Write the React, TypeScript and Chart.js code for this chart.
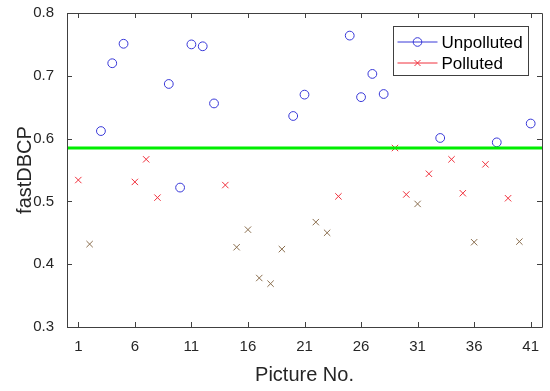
import { useEffect, useRef } from "react";
import { Chart, registerables } from "chart.js";
Chart.register(...registerables);

const unpollutedIdx = [3, 4, 5, 9, 10, 11, 12, 13, 20, 21, 25, 26, 27, 28, 33, 38, 41];
const unpollutedVal = [0.612, 0.72, 0.751, 0.687, 0.522, 0.75, 0.747, 0.656, 0.636, 0.67, 0.764, 0.666, 0.703, 0.671, 0.601, 0.594, 0.624];
const pollutedIdx = [1, 2, 6, 7, 8, 14, 15, 16, 17, 18, 19, 22, 23, 24, 29, 30, 31, 32, 34, 35, 36, 37, 39, 40];
const pollutedVal = [0.534, 0.432, 0.531, 0.567, 0.506, 0.526, 0.427, 0.455, 0.378, 0.369, 0.424, 0.467, 0.45, 0.508, 0.585, 0.511, 0.496, 0.544, 0.567, 0.513, 0.435, 0.559, 0.505, 0.436];
const threshold = 0.585;
const xRange = [0, 42];
const xTicks = [1, 6, 11, 16, 21, 26, 31, 36, 41];
const yTicks = [0.3, 0.4, 0.5, 0.6, 0.7, 0.8];

const FONT = "'Liberation Sans', Arial, sans-serif";
const TEXT = "#262626";
const BLUE = "#3838d8";
const RED = "#f0303c";
const BROWN = "#8a6e4e";

const boxPlugin = {
  id: "matlabBox",
  afterDraw(chart: any) {
    const { ctx, chartArea: a, scales } = chart;
    ctx.save();
    ctx.strokeStyle = "#404040";
    ctx.lineWidth = 1;
    ctx.beginPath();
    ctx.rect(Math.round(a.left) + 0.5, Math.round(a.top) + 0.5, Math.round(a.right - a.left), Math.round(a.bottom - a.top));
    ctx.stroke();
    const tl = 5;
    ctx.beginPath();
    for (const t of scales.x.ticks) {
      const px = Math.round(scales.x.getPixelForValue(t.value)) + 0.5;
      ctx.moveTo(px, a.bottom);
      ctx.lineTo(px, a.bottom - tl);
      ctx.moveTo(px, a.top);
      ctx.lineTo(px, a.top + tl);
    }
    for (const t of scales.y.ticks) {
      const py = Math.round(scales.y.getPixelForValue(t.value)) + 0.5;
      ctx.moveTo(a.left, py);
      ctx.lineTo(a.left + tl, py);
      ctx.moveTo(a.right, py);
      ctx.lineTo(a.right - tl, py);
    }
    ctx.stroke();

    // legend
    const w = 135, h = 49;
    const bx = Math.round(a.right - 14 - w) + 0.5;
    const by = Math.round(a.top + 13) + 0.5;
    ctx.fillStyle = "#ffffff";
    ctx.fillRect(bx, by, w, h);
    ctx.strokeStyle = "#404040";
    ctx.strokeRect(bx, by, w, h);
    const items = [
      { label: chart.data.datasets[0].label, color: BLUE, style: "circle" },
      { label: chart.data.datasets[1].label, color: RED, style: "cross" },
    ];
    items.forEach((it, i) => {
      const cy = by + 15.5 + i * 21;
      ctx.strokeStyle = it.color;
      ctx.lineWidth = 1;
      ctx.beginPath();
      ctx.moveTo(bx + 4, cy);
      ctx.lineTo(bx + 44, cy);
      ctx.stroke();
      const mx = bx + 24;
      ctx.beginPath();
      if (it.style === "circle") {
        ctx.arc(mx, cy, 4.3, 0, Math.PI * 2);
      } else {
        const r = 3;
        ctx.moveTo(mx - r, cy - r);
        ctx.lineTo(mx + r, cy + r);
        ctx.moveTo(mx + r, cy - r);
        ctx.lineTo(mx - r, cy + r);
      }
      ctx.stroke();
      ctx.fillStyle = "#000000";
      ctx.font = `17px ${FONT}`;
      ctx.textBaseline = "middle";
      ctx.textAlign = "left";
      ctx.fillText(it.label, bx + 48, cy + 1);
    });
    ctx.restore();
  },
};

export default function App() {
  const ref = useRef<HTMLCanvasElement>(null);
  useEffect(() => {
    if (!ref.current) return;
    const chart = new Chart(ref.current, {
      type: "scatter",
      data: {
        datasets: [
          {
            label: "Unpolluted",
            data: unpollutedIdx.map((x, i) => ({ x, y: unpollutedVal[i] })),
            pointStyle: "circle",
            pointRadius: 4.4,
            pointBorderWidth: 1,
            pointBorderColor: BLUE,
            pointBackgroundColor: "rgba(0,0,0,0)",
            showLine: false,
            order: 2,
          },
          {
            label: "Polluted",
            data: pollutedIdx.map((x, i) => ({ x, y: pollutedVal[i] })),
            pointStyle: "crossRot",
            pointRadius: 4.5,
            pointBorderWidth: 1,
            pointBorderColor: pollutedVal.map((v) => (v < 0.5 ? BROWN : RED)),
            pointBackgroundColor: "rgba(0,0,0,0)",
            showLine: false,
            order: 2,
          },
          {
            type: "line",
            label: "Threshold",
            data: [
              { x: xRange[0], y: threshold },
              { x: xRange[1], y: threshold },
            ],
            borderColor: "#00ee00",
            borderWidth: 3,
            pointRadius: 0,
            showLine: true,
            order: 1,
          } as any,
        ],
      },
      options: {
        responsive: false,
        animation: false,
        layout: { padding: { top: 13, right: 8, left: 0, bottom: 0 } },
        plugins: { legend: { display: false }, tooltip: { enabled: false } },
        scales: {
          x: {
            type: "linear",
            min: xRange[0],
            max: xRange[1],
            grid: { display: false, drawTicks: false },
            border: { display: false },
            afterBuildTicks: (s: any) => {
              s.ticks = xTicks.map((v) => ({ value: v }));
            },
            afterFit: (s: any) => {
              s.height = 64;
              s.paddingLeft = 0;
              s.paddingRight = 0;
            },
            ticks: {
              autoSkip: false,
              maxRotation: 0,
              padding: 11,
              color: TEXT,
              font: { family: FONT, size: 15 },
              callback: (v: any) => String(v),
            },
            title: {
              display: true,
              text: "Picture No.",
              color: TEXT,
              font: { family: FONT, size: 20 },
              padding: { top: 0, bottom: 4 },
            },
          },
          y: {
            type: "linear",
            min: yTicks[0],
            max: yTicks[yTicks.length - 1],
            grid: { display: false, drawTicks: false },
            border: { display: false },
            afterBuildTicks: (s: any) => {
              s.ticks = yTicks.map((v) => ({ value: v }));
            },
            afterFit: (s: any) => {
              s.width = 67;
              s.paddingTop = 0;
              s.paddingBottom = 0;
            },
            ticks: {
              padding: 13,
              color: TEXT,
              font: { family: FONT, size: 15 },
              callback: (v: any) => Number(v).toFixed(1),
            },
            title: {
              display: true,
              text: "fastDBCP",
              color: TEXT,
              font: { family: FONT, size: 20 },
              padding: { top: 13, bottom: 0 },
            },
          },
        },
      },
      plugins: [boxPlugin],
    });
    return () => chart.destroy();
  }, []);
  return (
    <div style={{ position: "fixed", left: 0, top: 0, width: 550, height: 391, background: "#fff" }}>
      <canvas ref={ref} width={550} height={391} />
    </div>
  );
}
